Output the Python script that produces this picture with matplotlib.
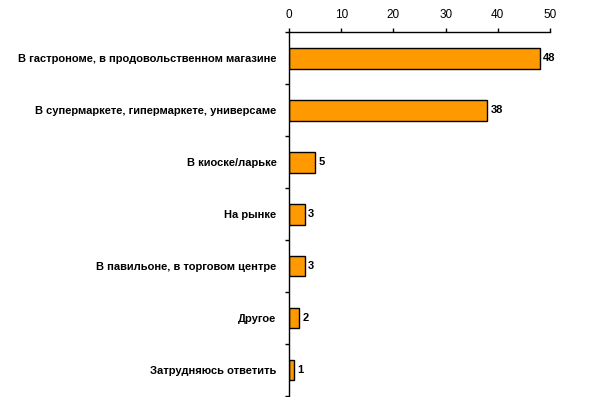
import numpy as np
import matplotlib.pyplot as plt
from matplotlib.ticker import FixedLocator

categories = ['В гастрономе, в продовольственном магазине',
              'В супермаркете, гипермаркете, универсаме',
              'В киоске/ларьке',
              'На рынке',
              'В павильоне, в торговом центре',
              'Другое',
              'Затрудняюсь ответить']
values = [48, 38, 5, 3, 3, 2, 1]
xticks = [0, 10, 20, 30, 40, 50]

plt.rcParams['font.family'] = ['Liberation Sans', 'DejaVu Sans']

fig = plt.figure(figsize=(5.93, 3.97), dpi=100)
ax = fig.add_axes([289 / 593, 1 - 396 / 397, (550 - 289) / 593, (396 - 32.3) / 397])

y = np.arange(len(categories))
ax.barh(y, values, height=0.4, color='#FF9900', edgecolor='black', linewidth=1)
for yi, v in zip(y, values):
    ax.text(v + 0.6, yi, str(v), va='center', ha='left', fontsize=8, fontweight='bold')

ax.set_xlim(0, 50)
ax.set_ylim(len(categories) - 0.5, -0.5)
ax.xaxis.tick_top()
ax.set_xticks(xticks)
ax.tick_params(axis='x', direction='out', length=3, width=1, labelsize=8.5, pad=5, colors='black')
ax.set_yticks(y)
ax.set_yticklabels(categories, fontsize=8, fontweight='bold')
ax.tick_params(axis='y', which='major', length=0, pad=9)
ax.yaxis.set_minor_locator(FixedLocator(np.arange(len(categories) + 1) - 0.5))
ax.tick_params(axis='y', which='minor', length=3, width=1, direction='out')

for s in ['right', 'bottom']:
    ax.spines[s].set_visible(False)
for s in ['left', 'top']:
    ax.spines[s].set_linewidth(1)

fig.savefig('out.png', dpi=100)
